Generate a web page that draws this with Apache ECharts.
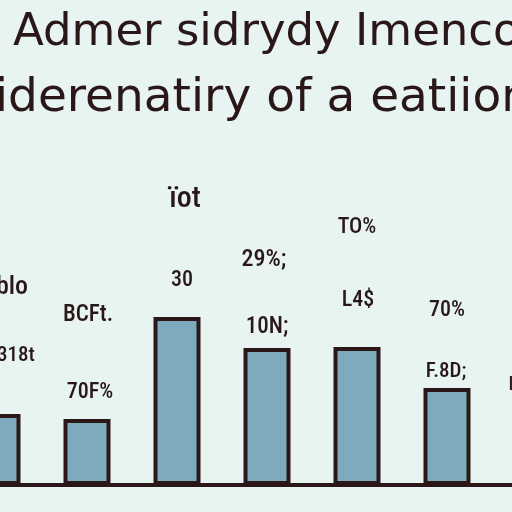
<!DOCTYPE html>
<html><head><meta charset="utf-8">
<script src="https://cdn.jsdelivr.net/npm/echarts@6/dist/echarts.min.js"></script>
<style>html,body{margin:0;padding:0;background:#e7f4f1;}#c{width:512px;height:512px;}</style>
</head><body><div id="c"></div>
<script>
var titleLines = ["Admer sidrydy Imenco", "iderenatiry of a eatiion"];
var categoryIndex = [0, 1, 2, 3, 4, 5];
var values = [71, 66, 168, 137, 138, 97];
var labelTexts = ["ïot","TO%","29%;","30","blo","BCFt.","10N;","L4$","70%","318t","70F%","F.8D;","l"];
var labelPos = [[185,199],[357,227],[264,260],[182,280],[12,287],[88,315],[267,327],[358,300],[447,310],[16,356],[90,392],[446,372],[511,385]];
var labelSizes = [30,22,24,22,26,23,23,22,22,21,22,21,18];

var chart = echarts.init(document.getElementById('c'));
var ink = '#2a1718';
var graphics = [
  {type:'text', left:13, top:11, style:{text:titleLines[0], font:'45px "DejaVu Sans"', fill:ink}},
  {type:'text', left:-5, top:75, style:{text:titleLines[1], font:'47px "DejaVu Sans"', fill:ink}}
];
labelTexts.forEach(function(t,i){
  graphics.push({type:'text', x:labelPos[i][0], y:labelPos[i][1],
    style:{text:t, font:'500 '+labelSizes[i]+'px "Liberation Sans Narrow", "Roboto Condensed", Roboto', fill:ink, align:'center', verticalAlign:'middle'}});
});
var barData = categoryIndex.map(function(c,i){ return [c, values[i]]; });
chart.setOption({
  backgroundColor:'#e7f4f1',
  animation:false,
  grid:{left:0, right:0, top:285, bottom:27},
  xAxis:{type:'value', min:0.0333, max:5.7222, axisTick:{show:false}, axisLabel:{show:false}, splitLine:{show:false},
    axisLine:{show:true, lineStyle:{color:ink, width:4}}},
  yAxis:{type:'value', min:0, max:200, show:false, splitLine:{show:false}},
  series:[{type:'bar', data:barData, barWidth:47,
    itemStyle:{color:'#7eaabd', borderColor:ink, borderWidth:4}}],
  graphic:graphics
});
</script></body></html>
